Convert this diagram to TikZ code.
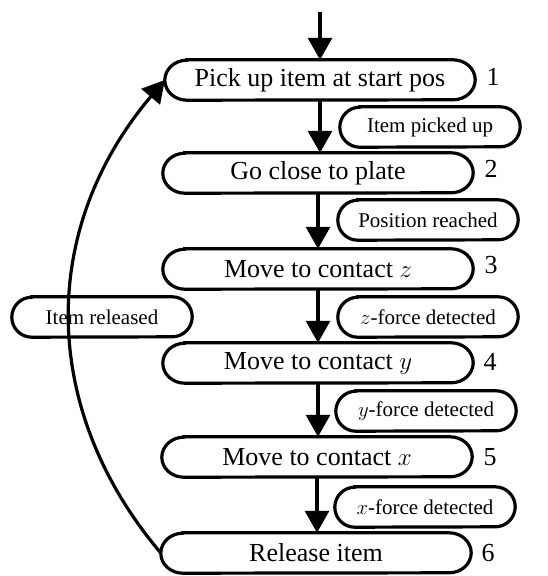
\documentclass[tikz,border=0pt]{standalone}
\usepackage{fontspec}
\setmainfont{Liberation Serif}
\usetikzlibrary{arrows.meta}
\begin{document}
\begin{tikzpicture}[x=1pt,y=-1pt,
  state/.style={rectangle,minimum width=266pt,minimum height=40pt,inner sep=0pt,font=\fontsize{26}{30}\selectfont},
  cond/.style={rectangle,minimum width=140pt,minimum height=40pt,inner sep=0pt,font=\fontsize{21}{25}\selectfont},
  num/.style={font=\fontsize{26}{30}\selectfont},
  outline/.style={line width=3.2pt},
  arr/.style={line width=3.2pt,-{Triangle[length=22pt,width=24pt]}}]
\useasboundingbox (0,0) rectangle (547,576);
\node[state] (s1) at (320,80) {Pick up item at start pos};
\node[state] (s2) at (318,173) {Go close to plate};
\node[state] (s3) at (318,269) {Move to contact $z$};
\node[state] (s4) at (318,363) {Move to contact $y$};
\node[state] (s5) at (317,457) {Move to contact $x$};
\node[state] (s6) at (316,553) {Release item};
\node[num] (n1) at (493,77) {1};
\node[num] (n2) at (491,169) {2};
\node[num] (n3) at (491,265) {3};
\node[num] (n4) at (490,362) {4};
\node[num] (n5) at (490,457) {5};
\node[num] (n6) at (488,553) {6};
\node[cond] (c1) at (430,127) {Item picked up};
\node[cond] (c2) at (428,220) {Position reached};
\node[cond] (c3) at (428,317) {$z$-force detected};
\node[cond] (c4) at (426,411) {$y$-force detected};
\node[cond] (c5) at (425,507) {$x$-force detected};
\node[cond] (rel) at (102,317) {Item released};
\foreach \n in {s1,s2,s3,s4,s5,s6}
  \draw[outline] (\n.north west) -- (\n.north east) arc[start angle=90,end angle=-90,x radius=22pt,y radius=20pt] -- (\n.south west) arc[start angle=270,end angle=90,x radius=22pt,y radius=20pt] -- cycle;
\foreach \n in {c1,c2,c3,c4,c5,rel}
  \draw[outline] (\n.north west) -- (\n.north east) arc[start angle=90,end angle=-90,x radius=20pt,y radius=20pt] -- (\n.south west) arc[start angle=270,end angle=90,x radius=20pt,y radius=20pt] -- cycle;
\coordinate (start) at (320,12);
\coordinate (s1tip) at ([xshift=-22pt]s1.west);
\coordinate (s6tip) at ([xshift=-22pt]s6.west);
\draw[arr] (start) -- (s1.north);
\draw[arr] (s1.south) -- (s1.south |- s2.north);
\draw[arr] (s2.south) -- (s2.south |- s3.north);
\draw[arr] (s3.south) -- (s3.south |- s4.north);
\draw[arr] (s4.south) -- (s4.south |- s5.north);
\draw[arr] (s5.south) -- (s5.south |- s6.north);
\draw[arr] (s6tip) .. controls (40,410) and (38,230) .. (s1tip);
\end{tikzpicture}
\end{document}
